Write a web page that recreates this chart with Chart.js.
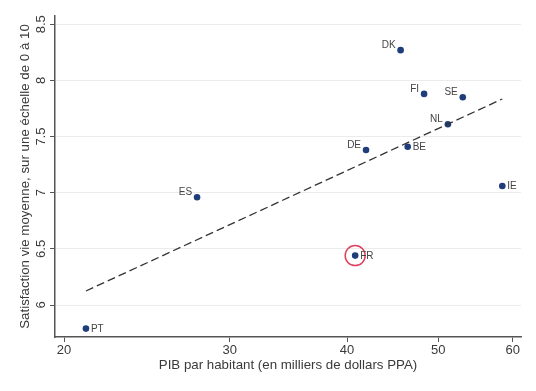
<!DOCTYPE html>
<html>
<head>
<meta charset="utf-8">
<script src="https://cdn.jsdelivr.net/npm/chart.js@4/dist/chart.umd.min.js"></script>
<style>
html, body { margin: 0; padding: 0; background: #fff; }
#wrap { width: 536px; height: 391px; }
</style>
</head>
<body>
<div id="wrap"><canvas id="scatter_chart"></canvas></div>
<script>
var countries = ['PT', 'ES', 'FR', 'DE', 'BE', 'DK', 'FI', 'NL', 'SE', 'IE'],
	gdp = [21.1, 27.7, 40.8, 41.9, 46.4, 45.6, 48.3, 51.2, 53.1, 58.5],
	satisfaction = [5.79, 6.96, 6.44, 7.38, 7.41, 8.27, 7.88, 7.61, 7.85, 7.06],
	fitX = [21.1, 58.5],
	fitY = [6.125, 7.835],
	xTicks = [20, 30, 40, 50, 60],
	yTicks = [6, 6.5, 7, 7.5, 8, 8.5],
	highlight = 'FR';

var font = '"Liberation Sans", Arial, Helvetica, sans-serif',
	textColor = '#3a3a3a',
	axisColor = '#555',
	dotColor = '#1f3d7a';

// labels drawn to the upper left of their dot, the rest go to the right
var labelLeft = ['ES', 'DE', 'DK', 'FI', 'NL', 'SE'];

var points = countries.map(function(c, i) {
	return { x: gdp[i], y: satisfaction[i] };
});
var hi = countries.indexOf(highlight);

var pointLabels = {
	id: 'pointLabels',
	afterDatasetsDraw: function(chart) {
		var ctx = chart.ctx;
		var meta = chart.getDatasetMeta(1);
		ctx.save();
		ctx.font = '10px ' + font;
		ctx.fillStyle = '#444';
		meta.data.forEach(function(pt, i) {
			if (labelLeft.indexOf(countries[i]) >= 0) {
				ctx.textAlign = 'right';
				ctx.textBaseline = 'alphabetic';
				ctx.fillText(countries[i], pt.x - 5, pt.y - 2);
			} else {
				ctx.textAlign = 'left';
				ctx.textBaseline = 'middle';
				ctx.fillText(countries[i], pt.x + 5, pt.y + 0.5);
			}
		});
		ctx.restore();
	}
};

var config = {
	type: 'scatter',
	data: {
		datasets: [{
			data: fitX.map(function(x, i) { return { x: x, y: fitY[i] }; }),
			showLine: true,
			borderColor: '#333',
			borderWidth: 1.3,
			borderDash: [8, 4],
			pointRadius: 0
		}, {
			data: points,
			backgroundColor: dotColor,
			borderWidth: 0,
			pointRadius: 3.3
		}, {
			data: [points[hi]],
			backgroundColor: 'rgba(0,0,0,0)',
			borderColor: '#e0405f',
			borderWidth: 1.5,
			pointRadius: 10
		}]
	},
	options: {
		responsive: true,
		maintainAspectRatio: false,
		animation: false,
		layout: { padding: { top: 16, right: 15, left: 0, bottom: 0 } },
		plugins: {
			legend: { display: false },
			tooltip: { enabled: false }
		},
		scales: {
			x: {
				type: 'logarithmic',
				min: 19.56,
				max: 61.24,
				afterBuildTicks: function(s) { s.ticks = xTicks.map(function(v) { return { value: v }; }); },
				afterFit: function(s) { s.height = 54; },
				grid: { drawOnChartArea: false, tickColor: axisColor, tickLength: 5 },
				border: { color: axisColor, width: 1.5 },
				ticks: {
					maxRotation: 0,
					padding: 1,
					color: textColor,
					font: { family: font, size: 13 },
					callback: function(v) { return String(v); }
				},
				title: {
					display: true,
					text: 'PIB par habitant (en milliers de dollars PPA)',
					color: textColor,
					font: { family: font, size: 13.3 },
					padding: { top: 0, bottom: 18 }
				}
			},
			y: {
				min: 5.715,
				max: 8.574,
				afterBuildTicks: function(s) { s.ticks = yTicks.map(function(v) { return { value: v }; }); },
				afterFit: function(s) { s.width = 55; },
				grid: { color: '#ebebeb', tickColor: axisColor, tickLength: 5 },
				border: { color: axisColor, width: 1.5 },
				ticks: {
					minRotation: 90,
					maxRotation: 90,
					crossAlign: 'center',
					padding: 0,
					color: textColor,
					font: { family: font, size: 13 },
					callback: function(v) { return String(v); }
				},
				title: {
					display: true,
					text: 'Satisfaction vie moyenne, sur une échelle de 0 à 10',
					color: textColor,
					font: { family: font, size: 13.3 },
					padding: { top: 17, bottom: 0 }
				}
			}
		}
	},
	plugins: [pointLabels]
};

new Chart(document.getElementById('scatter_chart').getContext('2d'), config);
</script>
</body>
</html>
